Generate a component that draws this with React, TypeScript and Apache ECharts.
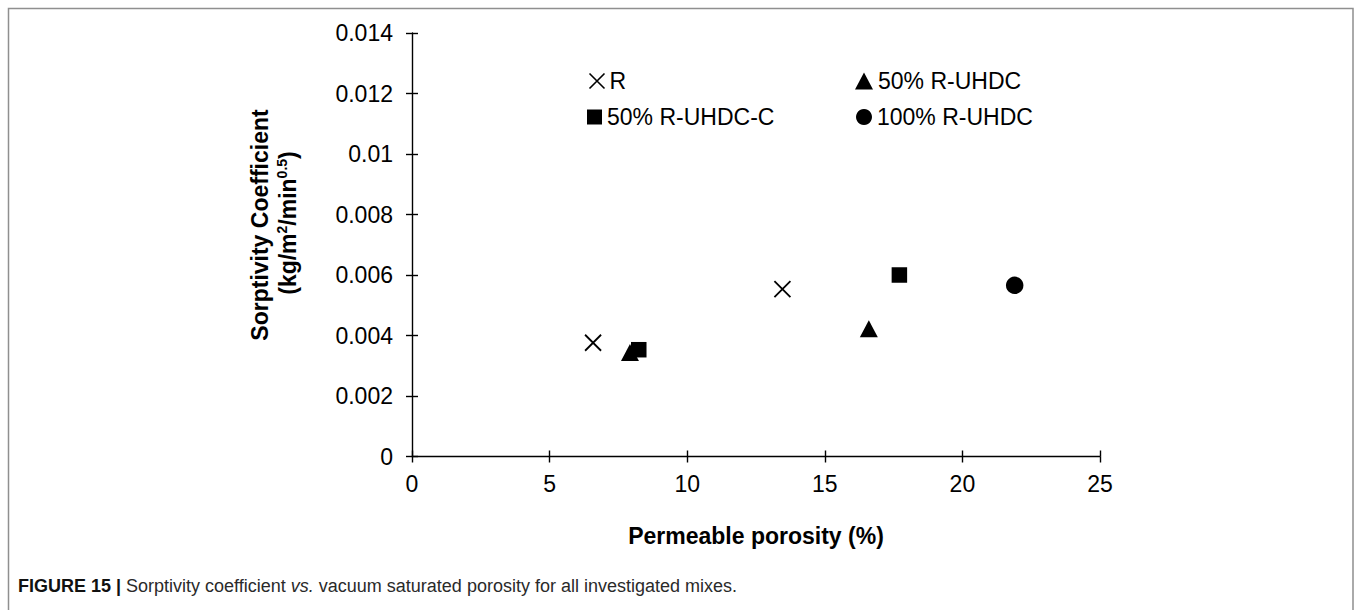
import React, { useEffect, useRef } from "react";
import * as echarts from "echarts";

// ---- data ----
const seriesNames = ["R", "50% R-UHDC", "50% R-UHDC-C", "100% R-UHDC"];

const rPorosity = [6.58, 13.46];
const rSorptivity = [0.00376, 0.00553];

const uhdc50Porosity = [7.92, 16.6];
const uhdc50Sorptivity = [0.00344, 0.00422];

const uhdc50cPorosity = [8.24, 17.71];
const uhdc50cSorptivity = [0.00353, 0.006];

const uhdc100Porosity = [21.9];
const uhdc100Sorptivity = [0.00566];

const xMin = 0;
const xMax = 25;
const xStep = 5;
const yMin = 0;
const yMax = 0.014;
const yStep = 0.002;

const xTitle = "Permeable porosity (%)";
const yTitleLine1 = "Sorptivity Coefficient";
const captionBold = "FIGURE 15 | ";
const captionA = "Sorptivity coefficient ";
const captionItalic = "vs.";
const captionB = " vacuum saturated porosity for all investigated mixes.";

const FONT = "'Liberation Sans', Arial, Helvetica, sans-serif";
const CROSS = "path://M0,0L10,10M10,0L0,10";

const zip = (xs: number[], ys: number[]) => xs.map((x, i) => [x, ys[i]]);

export default function App() {
  const ref = useRef<HTMLDivElement>(null);

  useEffect(() => {
    if (!ref.current) return;
    const chart = echarts.init(ref.current, null, { renderer: "svg" });

    const grid = { left: 412, top: 33, width: 688, height: 423.5 };

    const baseX = {
      type: "value",
      min: xMin,
      max: xMax,
      interval: xStep,
      splitLine: { show: false },
    };
    const baseY = {
      type: "value",
      min: yMin,
      max: yMax,
      interval: yStep,
      splitLine: { show: false },
    };

    const legendCommon = {
      orient: "horizontal",
      textStyle: { fontFamily: FONT, fontSize: 23, color: "#000", lineHeight: 24 },
      selectedMode: false,
      itemGap: 0,
      padding: 0,
    };

    const solid = { color: "#000", opacity: 1 };

    const option: any = {
      animation: false,
      backgroundColor: "#fff",
      textStyle: { fontFamily: FONT },
      grid,
      legend: [
        {
          ...legendCommon,
          left: 587,
          top: 69,
          itemWidth: 15,
          itemHeight: 15,
          data: [
            {
              name: seriesNames[0],
              icon: CROSS,
              itemStyle: { color: "none", borderColor: "#000", borderWidth: 1.6, opacity: 1 },
            },
          ],
        },
        {
          ...legendCommon,
          left: 855,
          top: 69,
          itemWidth: 18,
          itemHeight: 17,
          data: [{ name: seriesNames[1], icon: "triangle", itemStyle: solid }],
        },
        {
          ...legendCommon,
          left: 587,
          top: 105,
          itemWidth: 15,
          itemHeight: 15,
          data: [{ name: seriesNames[2], icon: "rect", itemStyle: solid }],
        },
        {
          ...legendCommon,
          left: 856,
          top: 105,
          itemWidth: 16,
          itemHeight: 16,
          data: [{ name: seriesNames[3], icon: "circle", itemStyle: solid }],
        },
      ],
      xAxis: [
        {
          ...baseX,
          position: "bottom",
          axisLine: { show: true, onZero: false, lineStyle: { color: "#000", width: 1.4 } },
          axisTick: { show: true, inside: false, length: 6, lineStyle: { color: "#000", width: 1.4 } },
          axisLabel: { show: true, margin: 16, fontFamily: FONT, fontSize: 23, color: "#000" },
          name: xTitle,
          nameLocation: "middle",
          nameGap: 68,
          nameTextStyle: { fontFamily: FONT, fontSize: 23, fontWeight: "bold", color: "#000" },
        },
        {
          ...baseX,
          position: "bottom",
          axisLine: { show: false, onZero: false },
          axisTick: { show: true, inside: true, length: 6, lineStyle: { color: "#000", width: 1.4 } },
          axisLabel: { show: false },
        },
      ],
      yAxis: [
        {
          ...baseY,
          position: "left",
          axisLine: { show: true, onZero: false, lineStyle: { color: "#000", width: 1.4 } },
          axisTick: { show: true, inside: false, length: 6, lineStyle: { color: "#000", width: 1.4 } },
          axisLabel: { show: true, margin: 19, fontFamily: FONT, fontSize: 23, color: "#000" },
        },
        {
          ...baseY,
          position: "left",
          axisLine: { show: false, onZero: false },
          axisTick: { show: true, inside: true, length: 6, lineStyle: { color: "#000", width: 1.4 } },
          axisLabel: { show: false },
        },
      ],
      series: [
        {
          name: seriesNames[0],
          type: "scatter",
          xAxisIndex: 0,
          yAxisIndex: 0,
          symbol: CROSS,
          symbolSize: 16,
          itemStyle: { color: "none", borderColor: "#000", borderWidth: 1.8, opacity: 1 },
          data: zip(rPorosity, rSorptivity),
        },
        {
          name: seriesNames[1],
          type: "scatter",
          xAxisIndex: 0,
          yAxisIndex: 0,
          symbol: "triangle",
          symbolSize: [18, 17],
          itemStyle: solid,
          data: zip(uhdc50Porosity, uhdc50Sorptivity),
        },
        {
          name: seriesNames[2],
          type: "scatter",
          xAxisIndex: 0,
          yAxisIndex: 0,
          symbol: "rect",
          symbolSize: 15.5,
          itemStyle: solid,
          data: zip(uhdc50cPorosity, uhdc50cSorptivity),
        },
        {
          name: seriesNames[3],
          type: "scatter",
          xAxisIndex: 0,
          yAxisIndex: 0,
          symbol: "circle",
          symbolSize: 17.5,
          itemStyle: solid,
          data: zip(uhdc100Porosity, uhdc100Sorptivity),
        },
      ],
      graphic: [
        {
          type: "rect",
          silent: true,
          z: -10,
          shape: { x: 8.5, y: 8.5, width: 1344.5, height: 640 },
          style: { fill: "none", stroke: "#8f8f8f", lineWidth: 1.5 },
        },
        {
          type: "text",
          silent: true,
          x: 260,
          y: 225,
          rotation: Math.PI / 2,
          style: {
            text: yTitleLine1,
            fontFamily: FONT,
            fontSize: 23,
            fontWeight: "bold",
            fill: "#000",
            align: "center",
            verticalAlign: "middle",
          },
        },
        {
          type: "text",
          silent: true,
          x: 288,
          y: 223,
          rotation: Math.PI / 2,
          style: {
            text: "{n|(kg/m}{s|2}{n|/min}{s|0.5}{n|)}",
            align: "center",
            verticalAlign: "middle",
            rich: {
              n: { fontFamily: FONT, fontSize: 23, fontWeight: "bold", fill: "#000", lineHeight: 26 },
              s: {
                fontFamily: FONT,
                fontSize: 14,
                fontWeight: "bold",
                fill: "#000",
                lineHeight: 14,
                verticalAlign: "top",
              },
            },
          },
        },
        {
          type: "text",
          silent: true,
          x: 18,
          y: 586,
          style: {
            text:
              "{b|" + captionBold + "}{n|" + captionA + "}{i|" + captionItalic + "}{n|" + captionB + "}",
            align: "left",
            verticalAlign: "middle",
            rich: {
              b: { fontFamily: FONT, fontSize: 18, fontWeight: "bold", fill: "#111" },
              n: { fontFamily: FONT, fontSize: 18, fill: "#2a2a2a" },
              i: { fontFamily: FONT, fontSize: 18, fontStyle: "italic", fill: "#2a2a2a" },
            },
          },
        },
      ],
    };

    chart.setOption(option);
    return () => chart.dispose();
  }, []);

  return (
    <div
      ref={ref}
      style={{ position: "fixed", left: 0, top: 0, width: 1356, height: 610, background: "#fff" }}
    />
  );
}
